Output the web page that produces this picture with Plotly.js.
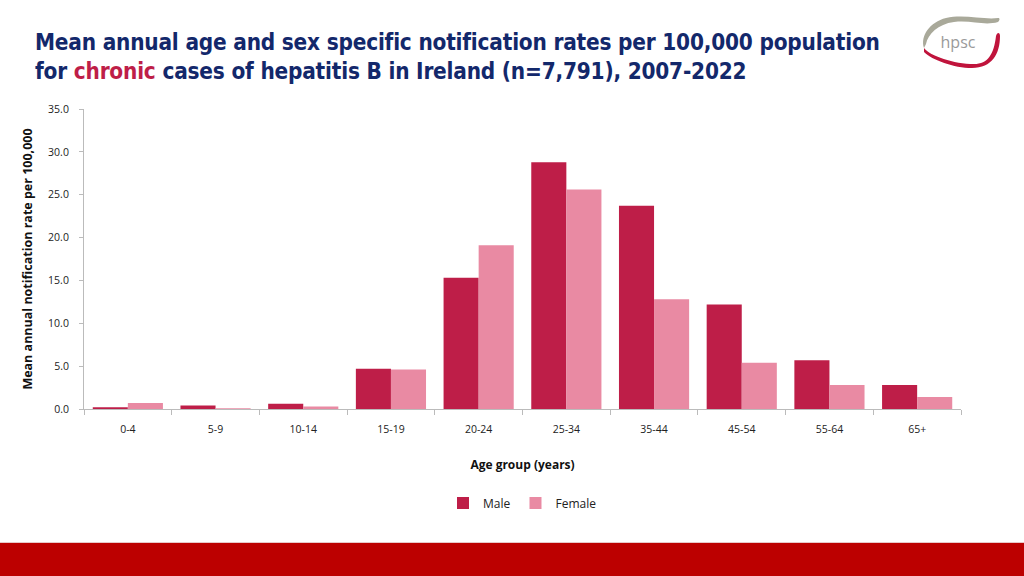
<!DOCTYPE html>
<html><head><meta charset="utf-8">
<script src="https://cdn.plot.ly/plotly-3.0.1.min.js"></script>
<style>
html,body{margin:0;padding:0;background:#fff;}
#wrap{position:relative;width:1024px;height:576px;overflow:hidden;}
#chart{position:absolute;left:0;top:0;width:1024px;height:576px;}
#title{position:absolute;left:35px;top:28px;font-family:"DejaVu Sans Condensed","DejaVu Sans",sans-serif;font-weight:bold;font-size:22.4px;line-height:29px;color:#13286b;letter-spacing:-0.2px;}
#title .hl{color:#be1e48;}
#logo{position:absolute;left:914px;top:10px;}
#footer{position:absolute;left:0;top:542px;width:1024px;height:34px;background:#bc0000;border-top:1px solid #e8c8c8;}
</style></head>
<body><div id="wrap">
<div id="chart"></div>
<div id="title">Mean annual age and sex specific notification rates per 100,000 population<br>for <span class="hl">chronic</span> cases of hepatitis B in Ireland (n=7,791), 2007-2022</div>
<svg id="logo" width="90" height="62" viewBox="0 0 90 62">
  <path d="M10,38 C6,26 16,12 32,8 C50,4 70,10 84,8 C86,8 86,10 84,12 C70,16 58,10 40,12 C24,14 14,24 12,34 Z" fill="#a9a99a"/>
  <path d="M10,38 C16,46 40,54 60,54 C74,54 80,44 82,26 C83,22 86,22 86,26 C86,44 78,58 58,58 C40,58 18,50 10,42 Z" fill="#c0143c"/>
  <text x="44" y="38" text-anchor="middle" font-family="Open Sans, sans-serif" font-size="16" fill="#9a9a9a">hpsc</text>
</svg>
<div id="footer"></div>
</div>
<script>
var categories = ["0-4","5-9","10-14","15-19","20-24","25-34","35-44","45-54","55-64","65+"];
var maleRates = [0.2, 0.4, 0.6, 4.7, 15.3, 28.8, 23.7, 12.2, 5.7, 2.8];
var femaleRates = [0.7, 0.1, 0.3, 4.6, 19.1, 25.6, 12.8, 5.4, 2.8, 1.4];
var yTicks = [0,5,10,15,20,25,30,35];

var tickFont = {family:"Open Sans, Liberation Sans, sans-serif", size:10.5, color:"#222"};
var data = [
  {type:"bar", name:"Male", x:categories, y:maleRates, marker:{color:"#be1e48"}},
  {type:"bar", name:"Female", x:categories, y:femaleRates, marker:{color:"#e98aa3"}}
];
var layout = {
  width:1024, height:576,
  margin:{l:84, r:63, t:109, b:167},
  paper_bgcolor:"rgba(0,0,0,0)", plot_bgcolor:"rgba(0,0,0,0)",
  barmode:"group", bargap:0.2, bargroupgap:0,
  showlegend:true,
  legend:{orientation:"h", x:0.5, xanchor:"center", y:-0.313, yanchor:"middle", font:{family:"Open Sans, Liberation Sans, sans-serif", size:12, color:"#222"}, itemwidth:30, traceorder:"normal"},
  xaxis:{
    type:"category", showline:true, linecolor:"#bbb", linewidth:1,
    ticks:"outside", tickson:"boundaries", ticklen:5, tickcolor:"#bbb",
    ticklabelstandoff:10,
    tickfont:tickFont, showgrid:false,
    title:{text:"<b>Age group (years)</b>", font:{family:"Open Sans, Liberation Sans, sans-serif", size:12, color:"#111"}, standoff:26}
  },
  yaxis:{
    range:[0,35], tickvals:yTicks, ticktext:yTicks.map(function(v){return v.toFixed(1);}),
    showline:true, linecolor:"#bbb", linewidth:1, ticks:"outside", ticklen:4, tickcolor:"#bbb",
    ticklabelstandoff:8,
    showgrid:false, zeroline:false, tickfont:tickFont,
    title:{text:"<b>Mean annual notification rate per 100,000</b>", font:{family:"Open Sans, Liberation Sans, sans-serif", size:12.5, color:"#111"}, standoff:12}
  }
};
Plotly.newPlot("chart", data, layout, {displayModeBar:false, staticPlot:true});
</script>
</body></html>
